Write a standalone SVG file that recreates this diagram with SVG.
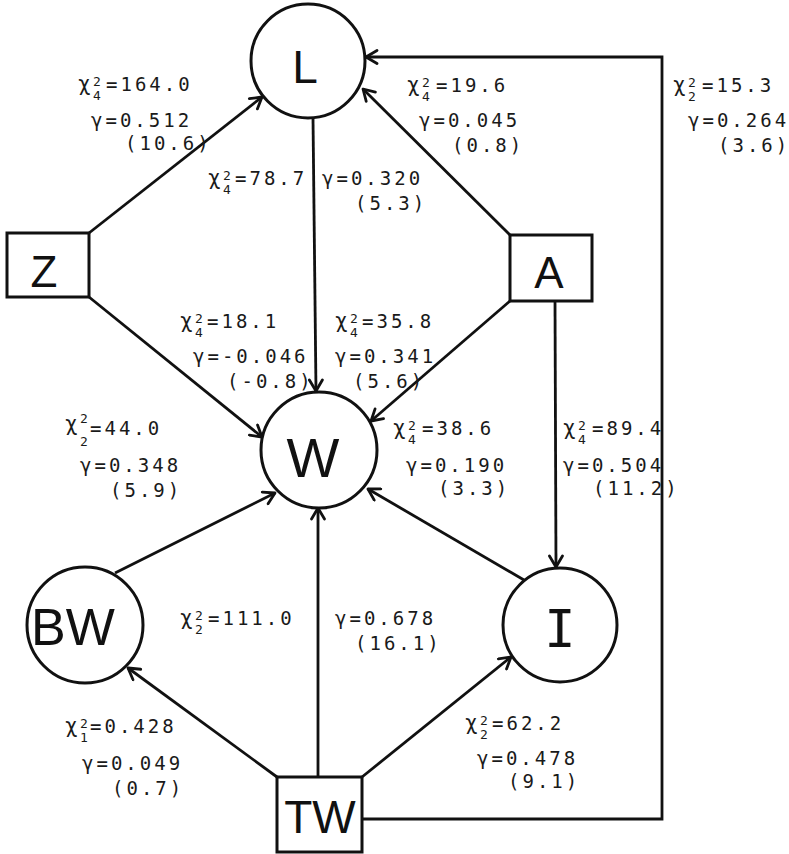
<svg xmlns="http://www.w3.org/2000/svg" width="789" height="854" viewBox="0 0 789 854">
<style>
.bg{fill:#fff}
.nd{fill:#fff;stroke:#111;stroke-width:3}
.nl{font-family:"Liberation Sans",Arial,sans-serif;fill:#111;text-anchor:middle}
.ed{fill:none;stroke:#111;stroke-width:2.8;marker-end:url(#arr)}
.t{font-family:"DejaVu Sans Mono",monospace;font-size:19px;letter-spacing:3px;fill:#1a1a1a}
.s{font-size:13px;letter-spacing:0}
.c{font-size:21px}
</style>
<defs>
<marker id="arr" viewBox="-13 -8 15 16" refX="0" refY="0" markerWidth="15" markerHeight="16" markerUnits="userSpaceOnUse" orient="auto">
<path d="M-11,-6.5 L0,0 L-11,6.5" fill="none" stroke="#111" stroke-width="2.8" stroke-linecap="round" stroke-linejoin="round"/>
</marker>
</defs>
<rect class="bg" width="789" height="854"/>
<g id="connectors">
<line class="ed" x1="89" y1="233" x2="262" y2="97"/>
<line class="ed" x1="89" y1="297" x2="262" y2="437"/>
<line class="ed" x1="313" y1="118" x2="316" y2="391"/>
<line class="ed" x1="510" y1="235" x2="363" y2="89"/>
<line class="ed" x1="510" y1="301" x2="371" y2="421"/>
<line class="ed" x1="555" y1="301" x2="556" y2="567"/>
<line class="ed" x1="524" y1="580" x2="368" y2="489"/>
<line class="ed" x1="115" y1="573" x2="275" y2="493"/>
<line class="ed" x1="318" y1="777" x2="318" y2="508"/>
<line class="ed" x1="277" y1="777" x2="128" y2="668"/>
<line class="ed" x1="362" y1="777" x2="511" y2="657"/>
<polyline class="ed" points="362,819 662,819 662,57 366,57"/>
</g>
<g id="node-L"><circle class="nd" cx="308" cy="61" r="57"/><text class="nl" x="305" y="83" font-size="46">L</text></g>
<g id="node-Z"><rect class="nd" x="7" y="233" width="82" height="64"/><text class="nl" x="44" y="287" font-size="44">Z</text></g>
<g id="node-A"><rect class="nd" x="510" y="235" width="82" height="66"/><text class="nl" x="549" y="288" font-size="44">A</text></g>
<g id="node-W"><circle class="nd" cx="319" cy="450" r="58"/><text class="nl" x="313" y="477" font-size="56">W</text></g>
<g id="node-BW"><circle class="nd" cx="85" cy="625" r="58"/><text class="nl" x="73" y="645" font-size="52">BW</text></g>
<g id="node-I"><circle class="nd" cx="560" cy="625" r="57"/><text class="nl" x="560" y="647" font-size="52" style="font-family:'DejaVu Sans Mono',monospace">I</text></g>
<g id="node-TW"><rect class="nd" x="277" y="777" width="85" height="75"/><text class="nl" x="320" y="833" font-size="46">TW</text></g>
<g id="labels">
<g id="lab-ZL"><text class="t" x="78" y="91"><tspan class="c">χ</tspan><tspan class="s" x="93" y="86">2</tspan><tspan class="s" x="93" y="100">4</tspan><tspan x="106" y="91">=164.0</tspan></text><text class="t" x="91" y="127">γ=0.512</text><text class="t" x="125" y="150">(10.6)</text></g>
<g id="lab-LW"><text class="t" x="208" y="185"><tspan class="c">χ</tspan><tspan class="s" x="223" y="180">2</tspan><tspan class="s" x="223" y="194">4</tspan><tspan x="235" y="185">=78.7</tspan></text><text class="t" x="322" y="185">γ=0.320</text><text class="t" x="355" y="210">(5.3)</text></g>
<g id="lab-AL"><text class="t" x="407" y="92"><tspan class="c">χ</tspan><tspan class="s" x="422" y="87">2</tspan><tspan class="s" x="422" y="101">4</tspan><tspan x="436" y="92">=19.6</tspan></text><text class="t" x="419" y="127">γ=0.045</text><text class="t" x="452" y="152">(0.8)</text></g>
<g id="lab-TWL"><text class="t" x="673" y="92"><tspan class="c">χ</tspan><tspan class="s" x="688" y="87">2</tspan><tspan class="s" x="688" y="101">2</tspan><tspan x="702" y="92">=15.3</tspan></text><text class="t" x="688" y="127">γ=0.264</text><text class="t" x="718" y="152">(3.6)</text></g>
<g id="lab-ZW"><text class="t" x="180" y="328"><tspan class="c">χ</tspan><tspan class="s" x="195" y="323">2</tspan><tspan class="s" x="195" y="337">4</tspan><tspan x="207" y="328">=18.1</tspan></text><text class="t" x="193" y="363">γ=-0.046</text><text class="t" x="227" y="388">(-0.8)</text></g>
<g id="lab-AW"><text class="t" x="335" y="328"><tspan class="c">χ</tspan><tspan class="s" x="350" y="323">2</tspan><tspan class="s" x="350" y="337">4</tspan><tspan x="362" y="328">=35.8</tspan></text><text class="t" x="335" y="363">γ=0.341</text><text class="t" x="353" y="388">(5.6)</text></g>
<g id="lab-BWW"><text class="t" x="65" y="431"><tspan class="c">χ</tspan><tspan class="s" x="80" y="423">2</tspan><tspan class="s" x="80" y="446">2</tspan><tspan x="90" y="435">=44.0</tspan></text><text class="t" x="80" y="472">γ=0.348</text><text class="t" x="110" y="497">(5.9)</text></g>
<g id="lab-IW"><text class="t" x="393" y="435"><tspan class="c">χ</tspan><tspan class="s" x="408" y="430">2</tspan><tspan class="s" x="408" y="444">4</tspan><tspan x="422" y="435">=38.6</tspan></text><text class="t" x="406" y="472">γ=0.190</text><text class="t" x="438" y="495">(3.3)</text></g>
<g id="lab-AI"><text class="t" x="563" y="435"><tspan class="c">χ</tspan><tspan class="s" x="578" y="430">2</tspan><tspan class="s" x="578" y="444">4</tspan><tspan x="592" y="435">=89.4</tspan></text><text class="t" x="563" y="472">γ=0.504</text><text class="t" x="593" y="495">(11.2)</text></g>
<g id="lab-TWW"><text class="t" x="180" y="625"><tspan class="c">χ</tspan><tspan class="s" x="195" y="620">2</tspan><tspan class="s" x="195" y="634">2</tspan><tspan x="208" y="625">=111.0</tspan></text><text class="t" x="335" y="625">γ=0.678</text><text class="t" x="355" y="650">(16.1)</text></g>
<g id="lab-TWBW"><text class="t" x="65" y="733"><tspan class="c">χ</tspan><tspan class="s" x="80" y="728">2</tspan><tspan class="s" x="80" y="742">1</tspan><tspan x="90" y="733">=0.428</tspan></text><text class="t" x="82" y="770">γ=0.049</text><text class="t" x="112" y="795">(0.7)</text></g>
<g id="lab-TWI"><text class="t" x="465" y="730"><tspan class="c">χ</tspan><tspan class="s" x="480" y="725">2</tspan><tspan class="s" x="480" y="739">2</tspan><tspan x="492" y="730">=62.2</tspan></text><text class="t" x="477" y="765">γ=0.478</text><text class="t" x="508" y="788">(9.1)</text></g>
</g>
</svg>
